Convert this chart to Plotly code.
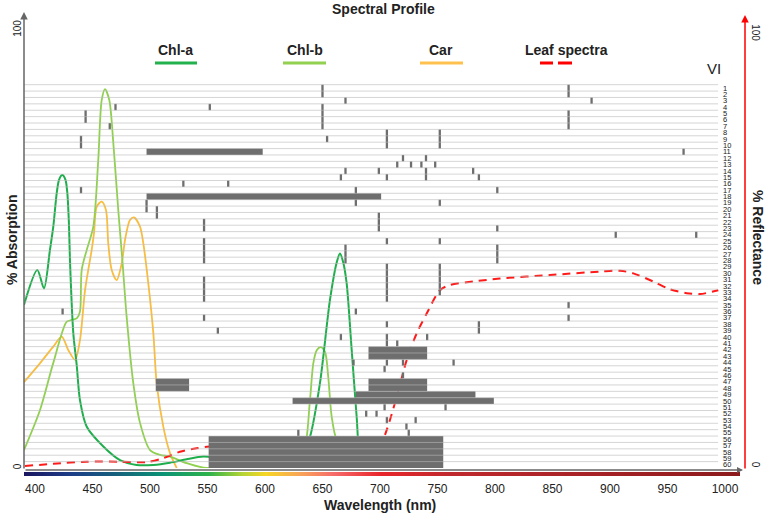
import plotly.graph_objects as go

# ---------------- data ----------------
chla_wl = [390.4, 402.0, 407.8, 413.0, 415.9, 418.9, 420.9, 423.7, 426.5, 428.1, 429.6, 430.4, 433.3, 436.3,
           439.1, 445.0, 459.4, 473.9, 488.4, 502.9, 517.4, 531.9, 546.4, 555.0, 566.7, 572.5, 589.8, 611.3,
           633.3, 639.1, 647.8, 656.5, 662.4, 665.2, 668.0, 671.0, 675.4, 679.7, 682.6, 685.5, 691.3, 697.1, 701.5]
chla_abs = [37.2, 45.2, 41.0, 49.8, 55.1, 62.8, 65.8, 66.9, 65.8, 62.8, 55.1, 47.5, 30.8, 23.4,
            15.5, 9.4, 4.9, 1.8, 0.7, 0.7, 1.2, 2.0, 2.6, 2.3, 1.1, 1.1, 3.4, 4.5,
            3.4, 7.1, 19.4, 38.4, 47.0, 49.0, 47.0, 42.2, 26.9, 11.7, 2.6, 1.6, 2.0, 2.0, 0.0]

chlb_wl = [390.4, 404.3, 415.9, 427.6, 432.2, 436.5, 439.1, 440.6, 445.0, 450.7, 455.0, 458.0, 460.9, 464.6,
           468.1, 472.4, 476.1, 479.7, 485.5, 491.3, 500.0, 508.7, 517.4, 531.9, 549.3, 560.9, 575.4, 587.0,
           598.5, 610.2, 624.6, 633.3, 639.1, 642.0, 645.0, 648.4, 652.2, 655.0, 658.0, 662.4, 671.0, 685.5, 701.5]
chlb_abs = [4.1, 13.2, 24.0, 33.4, 33.8, 34.2, 35.7, 45.2, 49.8, 55.1, 70.3, 84.0, 86.5, 84.0,
            74.2, 58.9, 47.0, 34.5, 19.3, 10.3, 4.1, 3.0, 2.6, 1.1, 0.0, 0.5, 3.0, 4.5,
            2.6, 1.1, 1.8, 3.4, 15.5, 23.9, 26.9, 27.6, 26.5, 20.8, 11.7, 6.4, 4.1, 1.1, 0.0]

car_wl = [390.4, 404.3, 415.9, 423.2, 429.0, 434.8, 439.1, 443.5, 446.3, 449.3, 451.3, 453.7, 458.0, 461.7,
          463.7, 466.7, 471.0, 475.4, 478.3, 482.6, 486.1, 491.3, 494.2, 498.5, 502.9, 505.8, 511.6, 517.4, 523.2]
car_abs = [19.6, 23.9, 27.7, 30.0, 26.9, 24.7, 29.2, 40.6, 45.2, 49.8, 53.6, 59.7, 60.8, 58.9,
           51.3, 45.2, 42.9, 46.7, 52.1, 56.6, 57.2, 55.1, 51.3, 42.2, 30.8, 19.3, 9.4, 3.4, 0.0]

leaf_wl = [391.3, 415.9, 444.9, 473.9, 497.1, 511.5, 526.0, 540.5, 552.1, 566.6, 589.8, 618.8, 647.8, 673.9,
           688.4, 697.1, 705.8, 714.5, 723.2, 731.9, 740.6, 752.2, 760.9, 781.1, 804.3, 847.8, 891.3, 908.7,
           920.3, 937.7, 952.2, 966.7, 978.3, 994.2]
leaf_refl = [0.0, 0.5, 1.0, 1.0, 0.9, 1.8, 3.3, 4.1, 4.5, 3.7, 2.2, 1.4, 1.0, 0.8,
             1.4, 2.9, 8.3, 16.0, 24.5, 30.7, 35.3, 40.7, 41.9, 42.7, 43.4, 44.2, 45.0, 45.2,
             44.6, 42.7, 40.9, 40.0, 39.8, 40.7]

# VI bands: wavelength start/end (nm) and first/last row used
vi_wl_start = [650, 864, 670, 884, 470, 552, 650, 864, 444, 465, 706, 752, 654, 440, 497, 964, 720, 740,
               715, 727, 736, 748, 670, 699, 740, 781, 666, 706, 786, 529, 568, 440, 679, 802, 497, 752,
               497, 506, 699, 547, 802, 905, 975, 706, 752, 547, 670, 802, 706, 752, 547, 864, 679, 424,
               864, 547, 706, 786, 559, 666, 706, 741, 715, 690, 677, 706, 720, 764, 704, 720, 690, 505,
               679, 624, 704, 757, 688, 697, 706, 731, 723, 725, 629, 551]
vi_wl_end = [650, 864, 670, 884, 470, 552, 650, 864, 444, 465, 706, 752, 654, 440, 598, 964, 720, 740,
             715, 727, 736, 748, 670, 699, 740, 781, 666, 706, 786, 529, 568, 440, 679, 802, 701, 752,
             497, 506, 699, 547, 802, 905, 975, 706, 752, 547, 670, 802, 706, 752, 547, 864, 679, 424,
             864, 547, 706, 786, 559, 666, 706, 741, 715, 741, 677, 706, 720, 764, 704, 720, 741, 534,
             783, 799, 704, 757, 688, 697, 706, 731, 723, 725, 629, 755]
vi_row_first = [1, 1, 3, 3, 4, 4, 4, 5, 5, 7, 8, 8, 9, 9, 11, 11, 12, 12,
                13, 13, 13, 13, 14, 14, 14, 14, 15, 15, 15, 16, 16, 17, 17, 17, 18, 19,
                19, 20, 21, 22, 23, 24, 24, 25, 25, 25, 26, 26, 29, 29, 31, 35, 36, 36,
                37, 37, 38, 38, 39, 40, 40, 40, 41, 42, 44, 44, 44, 44, 45, 46, 47, 47,
                49, 50, 51, 51, 52, 52, 53, 53, 54, 55, 55, 56]
vi_row_last = [2, 2, 3, 3, 4, 4, 7, 7, 6, 7, 10, 10, 9, 10, 11, 11, 12, 12,
               13, 13, 13, 13, 14, 14, 15, 14, 15, 15, 15, 16, 16, 17, 19, 17, 18, 19,
               20, 21, 23, 23, 23, 24, 24, 25, 25, 28, 28, 28, 34, 33, 34, 35, 36, 36,
               37, 37, 38, 39, 39, 40, 41, 40, 41, 43, 44, 44, 44, 44, 45, 46, 48, 48,
               49, 50, 51, 51, 52, 52, 53, 53, 54, 55, 55, 60]

row_numbers = list(range(1, 61))
x_ticks = [400, 450, 500, 550, 600, 650, 700, 750, 800, 850, 900, 950, 1000]

spectrum_nm = [390, 430, 470, 510, 550, 580, 600, 630, 660, 700, 760, 1013]
spectrum_colors = ['#1b1660', '#1c3d86', '#16607c', '#0b9275', '#2db24b', '#b5d436', '#f6d624',
                   '#f8a458', '#f66a6a', '#e8262b', '#bf292e', '#8c1b1e']

# ---------------- layout helpers ----------------
W, H = 767, 519
L, R, T, B = 24, 22, 10, 42
pw, ph = W - L - R, H - T - B


def PX(x):
    return (x - L) / pw


def PY(y):
    return (H - B - y) / ph


X_RANGE = [390.43, 1002.63]
ROW_LINE_END = 994.0

fig = go.Figure()

# colour spectrum strip
lo, hi = spectrum_nm[0], spectrum_nm[-1]
cscale = [[(v - lo) / (hi - lo), c] for v, c in zip(spectrum_nm, spectrum_colors)]
fig.add_trace(go.Heatmap(x=spectrum_nm, y=[0, 1], z=[spectrum_nm, spectrum_nm], zsmooth='best',
                         colorscale=cscale, showscale=False, xaxis='x2', yaxis='y4', hoverinfo='skip'))

# VI band marks
centers, widths, bases, heights = [], [], [], []
for s, e, r1, r2 in zip(vi_wl_start, vi_wl_end, vi_row_first, vi_row_last):
    w = max(e - s, 2.0)
    centers.append((s + e) / 2)
    widths.append(w)
    bases.append(r1 - 1)
    heights.append(r2 - r1 + 1)
fig.add_trace(go.Bar(x=centers, y=heights, base=bases, width=widths, yaxis='y3',
                     marker=dict(color='#6e6e6e', line=dict(width=0)), showlegend=False, hoverinfo='skip'))

# row separator lines
lx, ly = [], []
for n in range(len(row_numbers)):
    lx += [X_RANGE[0], ROW_LINE_END, None]
    ly += [n, n, None]
fig.add_trace(go.Scatter(x=lx, y=ly, yaxis='y3', mode='lines',
                         line=dict(color='rgba(185,185,185,0.6)', width=1), showlegend=False, hoverinfo='skip'))

# absorption curves
fig.add_trace(go.Scatter(x=car_wl, y=car_abs, mode='lines', name='Car',
                         line=dict(color='#fbbd3c', width=1.8, shape='spline', smoothing=0.8), showlegend=False))
fig.add_trace(go.Scatter(x=chlb_wl, y=chlb_abs, mode='lines', name='Chl-b',
                         line=dict(color='#8fd14f', width=1.8, shape='spline', smoothing=0.8), showlegend=False))
fig.add_trace(go.Scatter(x=chla_wl, y=chla_abs, mode='lines', name='Chl-a',
                         line=dict(color='#1fae4c', width=2, shape='spline', smoothing=0.8), showlegend=False))
# leaf reflectance
fig.add_trace(go.Scatter(x=leaf_wl, y=leaf_refl, mode='lines', name='Leaf spectra', yaxis='y2',
                         line=dict(color='#ff1a1a', width=2, dash='8px,6px', shape='spline', smoothing=0.8),
                         showlegend=False))

yd0 = PY(468)
layout = dict(
    width=W, height=H, margin=dict(l=L, r=R, t=T, b=B, autoexpand=False),
    paper_bgcolor='white', plot_bgcolor='rgba(0,0,0,0)',
    font=dict(family='Arial, Liberation Sans, sans-serif', color='#222'),
    barmode='overlay', showlegend=False,
    xaxis=dict(domain=[0, PX(728)], range=X_RANGE, tickvals=x_ticks, ticktext=[str(v) for v in x_ticks],
               showgrid=False, zeroline=False, showline=False, ticks='', ticklabelstandoff=12,
               tickfont=dict(family='Liberation Sans Narrow, Arial Narrow, Arial', size=12, color='#222'),
               anchor='y', automargin=False),
    yaxis=dict(domain=[yd0, 1], range=[0, 458 / 4.38], tickvals=[0, 100], ticktext=['0', '100'],
               tickangle=-90, showgrid=False, zeroline=False, showline=False, ticks='',
               tickfont=dict(size=10, color='#222'), anchor='x', automargin=False),
    yaxis2=dict(overlaying='y', anchor='free', position=1.0, side='right', range=[-0.463, 105.56],
                tickvals=[0, 100], ticktext=['0', '100'], tickangle=90, showgrid=False, zeroline=False,
                showline=False, ticks='', tickfont=dict(size=10, color='#222'), ticklabelstandoff=4,
                automargin=False),
    yaxis3=dict(overlaying='y', anchor='free', position=PX(720), side='right', range=[60, -11.69],
                tickvals=[k - 0.5 for k in row_numbers], ticktext=[str(k) for k in row_numbers],
                showgrid=False, zeroline=False, showline=False, ticks='', ticklabelstandoff=2,
                tickfont=dict(family='Liberation Sans Narrow, Arial Narrow, Arial', size=7.5, color='#222'),
                automargin=False),
    xaxis2=dict(domain=[0, PX(740)], range=[390.43, 1013], anchor='y4', visible=False, automargin=False),
    yaxis4=dict(domain=[PY(476), PY(472)], range=[0, 1], anchor='x2', visible=False, automargin=False),
)
fig.update_layout(**layout)


def label(x, y, text, size=14, angle=0):
    return dict(xref='paper', yref='paper', x=PX(x), y=PY(y), text=text, textangle=angle,
                xanchor='center', yanchor='middle', showarrow=False, font=dict(size=size, color='#222'))


ann = []
# axes arrows
ann.append(dict(xref='paper', yref='paper', x=PX(24), y=PY(12), ax=0, ay=458,
                showarrow=True, arrowhead=2, arrowsize=1, arrowwidth=1.5, arrowcolor='#666', text=''))
ann.append(dict(xref='paper', yref='paper', x=PX(745), y=PY(15), ax=0, ay=455,
                showarrow=True, arrowhead=2, arrowsize=1, arrowwidth=1.5, arrowcolor='#ff0000', text=''))
ann.append(dict(xref='paper', yref='paper', x=PX(743), y=PY(470), ax=-719, ay=0,
                showarrow=True, arrowhead=2, arrowsize=0.8, arrowwidth=1.5, arrowcolor='#666', text=''))
# titles
ann.append(label(383, 9, '<b>Spectral Profile</b>'))
ann.append(label(380, 505, '<b>Wavelength (nm)</b>'))
ann.append(label(12, 240, '<b>% Absorption</b>', angle=-90))
ann.append(label(758, 237, '<b>% Reflectance</b>', angle=90))
ann.append(label(714, 69, 'VI', size=15))
# custom legend
legend_items = [('Chl-a', 175, '#22b14c', 155, 197), ('Chl-b', 305, '#92d050', 283, 326),
                ('Car', 441, '#ffc14d', 420, 463)]
shapes = []
for name, cx, col, x0, x1 in legend_items:
    ann.append(label(cx, 50, '<b>%s</b>' % name))
    shapes.append(dict(type='line', xref='paper', yref='paper', x0=PX(x0), x1=PX(x1), y0=PY(63), y1=PY(63),
                       line=dict(color=col, width=3)))
ann.append(label(566, 50, '<b>Leaf spectra</b>'))
for x0, x1 in [(540, 553), (558, 572)]:
    shapes.append(dict(type='line', xref='paper', yref='paper', x0=PX(x0), x1=PX(x1), y0=PY(63), y1=PY(63),
                       line=dict(color='#ff0000', width=3)))

fig.update_layout(annotations=ann, shapes=shapes)
fig.write_html('out.html', config={'displayModeBar': False},
               post_script="document.body.style.margin='0';")
